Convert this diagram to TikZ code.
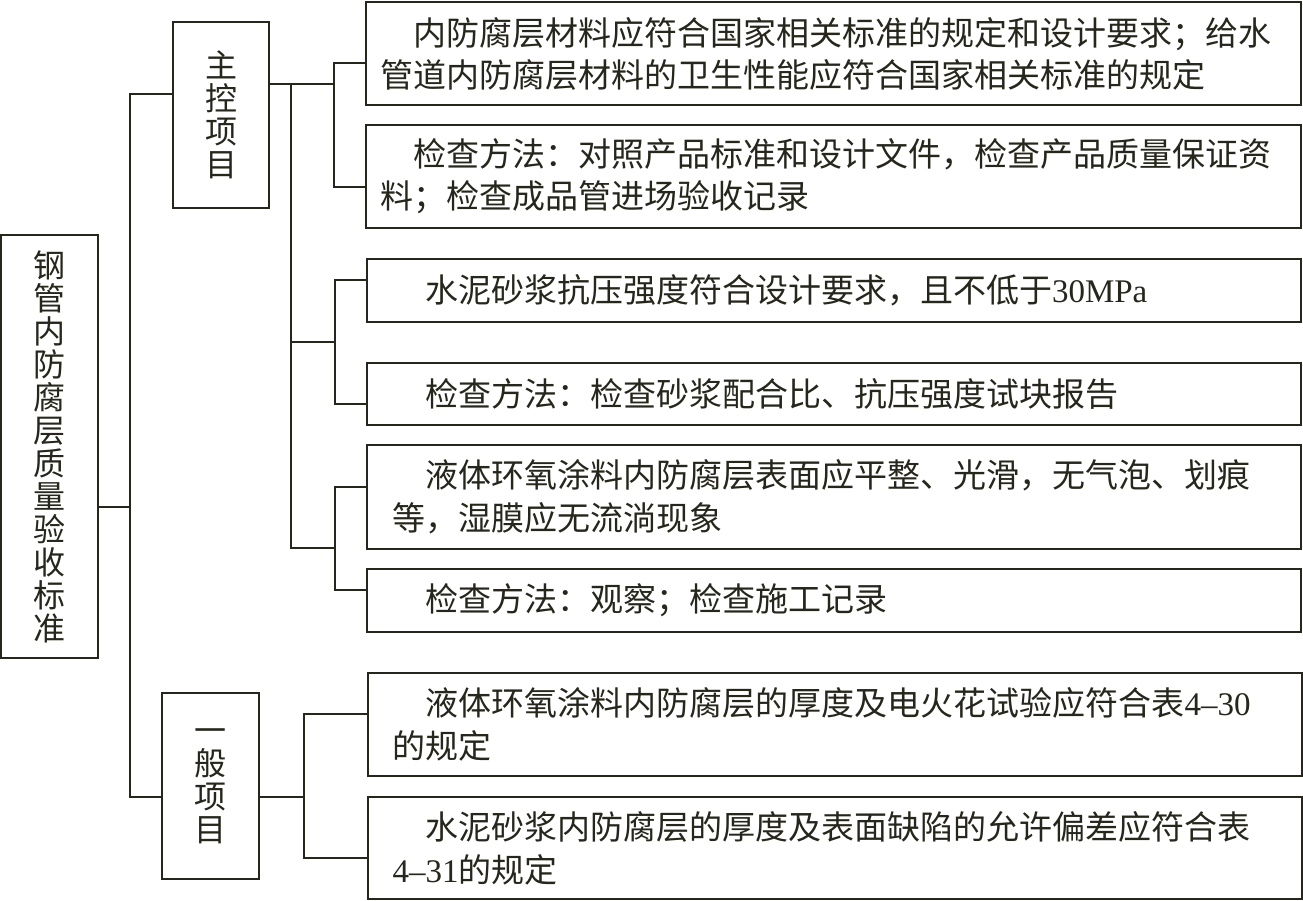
\documentclass[tikz,border=0pt]{standalone}
\usepackage{fontspec}
\newfontfamily\cjk{Noto Sans CJK SC}
\newfontfamily\lat{Liberation Serif}
\definecolor{ln}{RGB}{38,38,28}
\begin{document}
\begin{tikzpicture}[x=1pt,y=-1pt,
  frame/.style={draw=ln, line width=2pt, inner sep=0pt, text=ln},
  vbox/.style={frame, align=center, font={\cjk\fontsize{32pt}{33pt}\selectfont}},
  tboxa/.style={frame, align=left, inner xsep=14pt, text width=907pt,
     font={\cjk\fontsize{33pt}{42pt}\selectfont}},
  tboxb/.style={frame, align=left, inner xsep=25pt, text width=884pt,
     font={\cjk\fontsize{33pt}{43pt}\selectfont}},
  conn/.style={draw=ln, line width=2pt}]
\fill[white] (0,0) rectangle (1303,901);
\useasboundingbox (0,0) rectangle (1303,901);

% vertical boxes
\node[vbox, minimum width=97pt, minimum height=423pt] (root) at (49.5,446.5)
  {钢\\管\\内\\防\\腐\\层\\质\\量\\验\\收\\标\\准};
\node[vbox, minimum width=96pt, minimum height=186pt] (main) at (221,115)
  {主\\控\\项\\目};
\node[vbox, minimum width=97pt, minimum height=186pt] (gen) at (210.5,786)
  {一\\般\\项\\目};

% text boxes
\node[tboxa, minimum height=103pt] (b1) at (833.5,53.5)
  {\hspace*{33pt}内防腐层材料应符合国家相关标准的规定和设计要求；给水\\管道内防腐层材料的卫生性能应符合国家相关标准的规定};
\node[tboxa, minimum height=103pt] (b2) at (833.5,176.5)
  {\hspace*{33pt}检查方法：对照产品标准和设计文件，检查产品质量保证资\\料；检查成品管进场验收记录};
\node[tboxb, minimum height=63pt] (b3) at (834,290.5)
  {\hspace*{33pt}水泥砂浆抗压强度符合设计要求，且不低于{\lat 30MPa}};
\node[tboxb, minimum height=62pt] (b4) at (834,394)
  {\hspace*{33pt}检查方法：检查砂浆配合比、抗压强度试块报告};
\node[tboxb, minimum height=104pt] (b5) at (834,497)
  {\hspace*{33pt}液体环氧涂料内防腐层表面应平整、光滑，无气泡、划痕\\等，湿膜应无流淌现象};
\node[tboxb, minimum height=63pt] (b6) at (834,600.5)
  {\hspace*{33pt}检查方法：观察；检查施工记录};
\node[tboxb, minimum height=103pt] (b7) at (834.5,724.5)
  {\hspace*{33pt}液体环氧涂料内防腐层的厚度及电火花试验应符合表{\lat 4–30}\\的规定};
\node[tboxb, minimum height=102pt] (b8) at (834.5,848)
  {\hspace*{33pt}水泥砂浆内防腐层的厚度及表面缺陷的允许偏差应符合表\\{\lat 4–31}的规定};

% junction coordinates
\coordinate (rj) at (130,507);
\coordinate (t1) at (130,94);
\coordinate (t2) at (130,797);
\coordinate (m1) at (334,84);
\coordinate (p1) at (334,63);
\coordinate (p2) at (334,187);
\coordinate (v1) at (291,84);
\coordinate (v2) at (291,548);
\coordinate (q0) at (335,342);
\coordinate (q1) at (335,280);
\coordinate (q2) at (335,404);
\coordinate (r0) at (335,548);
\coordinate (r1) at (335,487);
\coordinate (r2) at (335,590);
\coordinate (g0) at (304,797);
\coordinate (g1) at (304,714);
\coordinate (g2) at (304,858);

% connectors
\draw[conn] (rj -| root.east) -- (rj);
\draw[conn] (t1 -| main.west) -- (t1) -- (t2) -- (t2 -| gen.west);
\draw[conn] (m1 -| main.east) -- (m1);
\draw[conn] (p1 -| b1.west) -- (p1) -- (p2) -- (p2 -| b2.west);
\draw[conn] (v1) -- (v2) -- (r0);
\draw[conn] (q0 -| v1) -- (q0);
\draw[conn] (q1 -| b3.west) -- (q1) -- (q2) -- (q2 -| b4.west);
\draw[conn] (r1 -| b5.west) -- (r1) -- (r2) -- (r2 -| b6.west);
\draw[conn] (g0 -| gen.east) -- (g0);
\draw[conn] (g1 -| b7.west) -- (g1) -- (g2) -- (g2 -| b8.west);
\end{tikzpicture}
\end{document}
